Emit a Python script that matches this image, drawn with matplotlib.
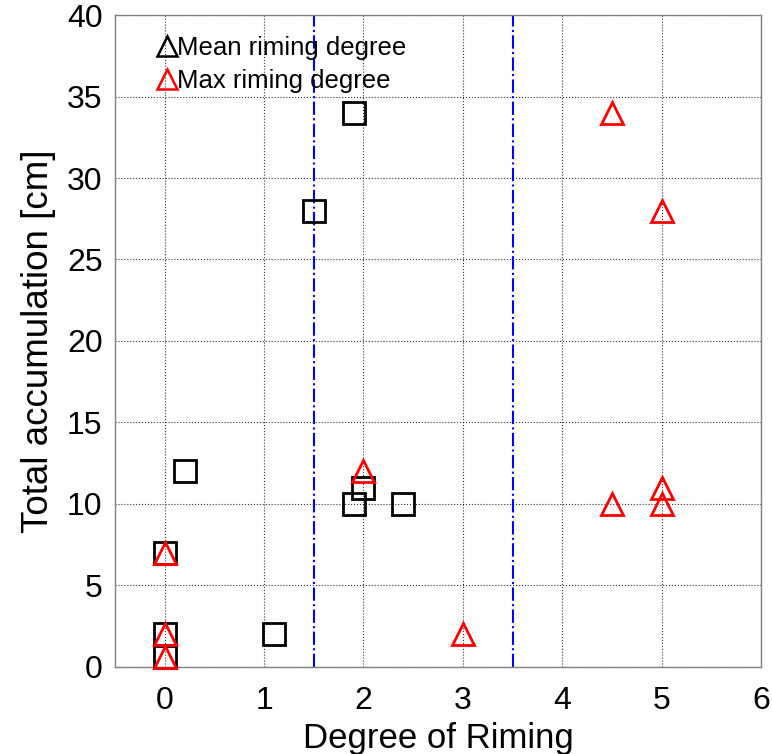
import matplotlib
matplotlib.use("Agg")
import matplotlib.pyplot as plt
from matplotlib.lines import Line2D

# mean riming degree (black squares) and max riming degree (red triangles)
accum = [0.6, 2, 7, 12, 2, 28, 34, 10, 11, 10]
mean_rim = [0, 0, 0, 0.2, 1.1, 1.5, 1.9, 1.9, 2.0, 2.4]
max_rim = [0, 0, 0, 2, 3, 4.5, 5, 4.5, 5, 5]
max_accum = [0.6, 2, 7, 12, 2, 34, 28, 10, 11, 10]
class_bounds = [1.5, 3.5]

xticks = [0, 1, 2, 3, 4, 5, 6]
yticks = [0, 5, 10, 15, 20, 25, 30, 35, 40]

plt.rcParams['font.family'] = ['Liberation Sans', 'DejaVu Sans']

fig = plt.figure(figsize=(7.72, 7.54), dpi=100)
ax = fig.add_axes([0.149, 0.1154, 0.8367, 0.8647])

ax.plot(mean_rim, accum, linestyle='none', marker='s', markersize=16.5,
        markerfacecolor='none', markeredgecolor='black', markeredgewidth=2.0,
        clip_on=False, zorder=3)
ax.plot(max_rim, max_accum, linestyle='none', marker='^', markersize=16.5,
        markerfacecolor='none', markeredgecolor='red', markeredgewidth=2.0,
        clip_on=False, zorder=3)

for xb in class_bounds:
    ax.axvline(xb, color='blue', linestyle='-.', linewidth=1.5, zorder=2)

ax.set_xlim(-0.5, 6)
ax.set_ylim(0, 40)
ax.set_xticks(xticks)
ax.set_yticks(yticks)
ax.grid(True, linestyle=':', color='black', linewidth=0.8, alpha=0.8)
ax.tick_params(length=0, labelsize=23)
ax.tick_params(axis='x', pad=14)
ax.tick_params(axis='y', pad=9)
for s in ax.spines.values():
    s.set_color('#808080')
    s.set_linewidth(1.0)

ax.set_xlabel('Degree of Riming', fontsize=25, labelpad=4)
ax.set_ylabel('Total accumulation [cm]', fontsize=26.5, labelpad=8)

# legend in the original uses triangles for both entries
handles = [
    Line2D([], [], linestyle='none', marker='^', markersize=14,
           markerfacecolor='none', markeredgecolor='black', markeredgewidth=1.8),
    Line2D([], [], linestyle='none', marker='^', markersize=14,
           markerfacecolor='none', markeredgecolor='red', markeredgewidth=1.8),
]
ax.legend(handles, ['Mean riming degree', 'Max riming degree'],
          loc='upper left', bbox_to_anchor=(0.035, 1.0), frameon=False,
          fontsize=18.5, handlelength=0.7, handletextpad=0.05,
          labelspacing=0.35, borderpad=0.3)

fig.savefig('out.png', dpi=100)
